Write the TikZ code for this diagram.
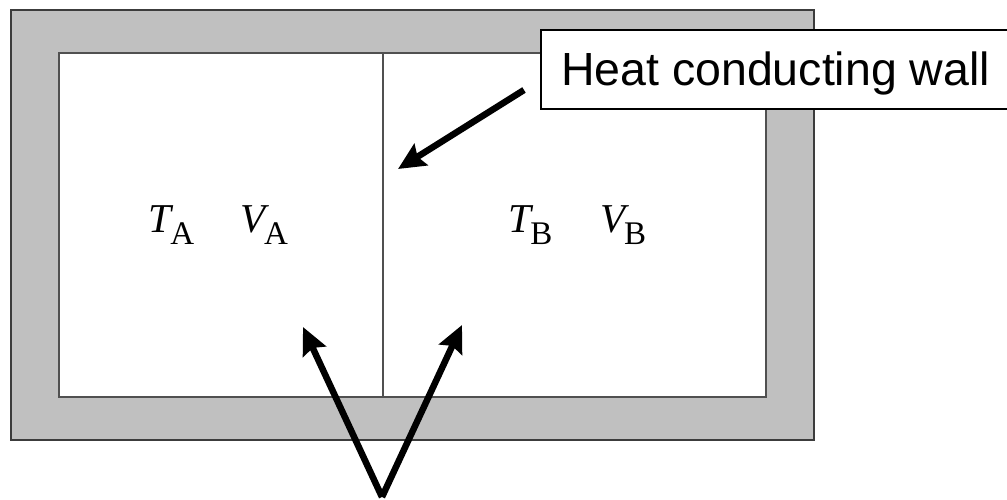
\documentclass[tikz,border=0pt]{standalone}
\usepackage{fontspec}
\setmainfont{Liberation Sans}
\newfontfamily\tnr{Liberation Serif}
\usetikzlibrary{arrows.meta}
\newcommand\symlab[3]{{\tnr\fontsize{41}{41}\selectfont\itshape #1\/}\kern#3\raisebox{-13pt}{\tnr\fontsize{33}{33}\selectfont #2}}
\definecolor{wallgray}{HTML}{C0C0C0}
\definecolor{edgedark}{HTML}{3C3C3C}
\definecolor{edgemid}{HTML}{505050}
\tikzset{
  frame/.style={fill=wallgray, draw=edgedark, line width=2.8pt},
  chamber/.style={fill=white, draw=edgemid, line width=2.4pt},
  divider/.style={draw=edgemid, line width=2.4pt},
  symtext/.style={anchor=base west, inner sep=0pt},
  labelbox/.style={draw=black, fill=white, line width=2pt, anchor=west, minimum height=79pt,
    inner xsep=20pt, text height=33pt, text depth=0pt, font=\fontsize{46.5}{46.5}\selectfont},
  pointer/.style={line width=6.5pt, -{Stealth[length=27pt, width=25pt, inset=4pt]}},
}
\begin{document}
\begin{tikzpicture}[x=1pt, y=-1pt]
\useasboundingbox (0,0) rectangle (1007,500);
\clip (0,0) rectangle (1007,500);
% insulated container
\path[frame] (11,10) rectangle (814,440);
\path[chamber] (59,53) rectangle (766,397);
\coordinate (dtop) at (383,53);
\coordinate (dbot) at (383,397);
\draw[divider] (dtop) -- (dbot);
% labels inside
\node[symtext] (ta) at (148,232) {\symlab{T}{A}{-3pt}};
\node[symtext] (va) at (240,232) {\symlab{V}{A}{-5pt}};
\node[symtext] (tb) at (508,232) {\symlab{T}{B}{-3pt}};
\node[symtext] (vb) at (600,232) {\symlab{V}{B}{-5pt}};
% callout
\node[labelbox] (lbl) at (540,69.5) {Heat conducting wall};
\coordinate (t1) at (524,90);
\coordinate (h1) at (398,169);
\draw[pointer] (t1) -- (h1);
% lower arrows
\coordinate (apex) at (382,497);
\coordinate (hl) at (303,327);
\coordinate (hr) at (462,325);
\draw[pointer] (apex) -- (hl);
\draw[pointer] (apex) -- (hr);
\end{tikzpicture}
\end{document}
